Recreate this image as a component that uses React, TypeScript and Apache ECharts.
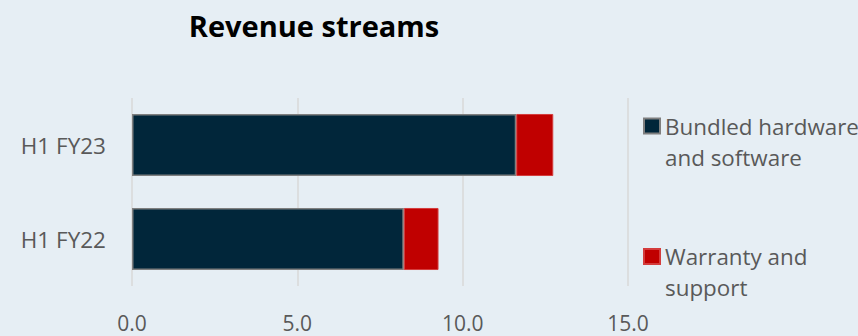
import React, { useEffect, useRef } from "react";
import * as echarts from "echarts";

const categories = ["H1 FY23", "H1 FY22"];
const seriesNames = ["Bundled hardware and software", "Warranty and support"];
const bundledValues = [11.62, 8.22];
const warrantyValues = [1.12, 1.05];
const legendLabels: Record<string, string> = {
  "Bundled hardware and software": "Bundled hardware\nand software",
  "Warranty and support": "Warranty and\nsupport",
};

const FONT = "'Open Sans', 'Noto Sans', sans-serif";

export default function App() {
  const ref = useRef<HTMLDivElement>(null);
  useEffect(() => {
    if (!ref.current) return;
    const chart = echarts.init(ref.current, undefined, { renderer: "svg" });
    chart.setOption({
      animation: false,
      backgroundColor: "#e6eef4",
      textStyle: { fontFamily: FONT },
      title: {
        text: "Revenue streams",
        left: 314,
        top: 7,
        textAlign: "center",
        padding: 0,
        textStyle: {
          fontFamily: FONT,
          fontSize: 29,
          fontWeight: "bold",
          color: "#000000",
          lineHeight: 36,
        },
      },
      legend: {
        orient: "vertical",
        left: 643,
        top: 79.5,
        padding: 0,
        itemGap: 37.5,
        itemWidth: 16,
        itemHeight: 15,
        icon: "rect",
        data: seriesNames,
        formatter: (name: string) => "\n" + (legendLabels[name] || name),
        textStyle: {
          fontFamily: FONT,
          fontSize: 22.4,
          color: "#595959",
          lineHeight: 31,
        },
      },
      grid: { left: 132, right: 230, top: 98, bottom: 48, containLabel: false },
      xAxis: {
        type: "value",
        min: 0,
        max: 15,
        interval: 5,
        axisLine: { show: false },
        axisTick: { show: false },
        splitLine: { show: true, lineStyle: { color: "#d9d9d9", width: 1.5 } },
        axisLabel: {
          formatter: (v: number) => v.toFixed(1),
          fontFamily: FONT,
          fontSize: 21,
          color: "#595959",
          margin: 24,
          lineHeight: 26,
        },
      },
      yAxis: {
        type: "category",
        inverse: true,
        data: categories,
        axisLine: { show: false },
        axisTick: { show: false },
        axisLabel: {
          fontFamily: FONT,
          fontSize: 22.5,
          color: "#595959",
          margin: 26,
        },
      },
      series: [
        {
          name: seriesNames[0],
          type: "bar",
          stack: "total",
          barWidth: "66%",
          data: bundledValues,
          itemStyle: { color: "#01263a", borderColor: "#7f7f7f", borderWidth: 1.5 },
        },
        {
          name: seriesNames[1],
          type: "bar",
          stack: "total",
          barWidth: "66%",
          data: warrantyValues,
          itemStyle: { color: "#c00000", borderColor: "#d43c3c", borderWidth: 1 },
        },
      ],
    });
    return () => chart.dispose();
  }, []);
  return (
    <div
      ref={ref}
      style={{ position: "fixed", left: 0, top: 0, width: 858, height: 336 }}
    />
  );
}
